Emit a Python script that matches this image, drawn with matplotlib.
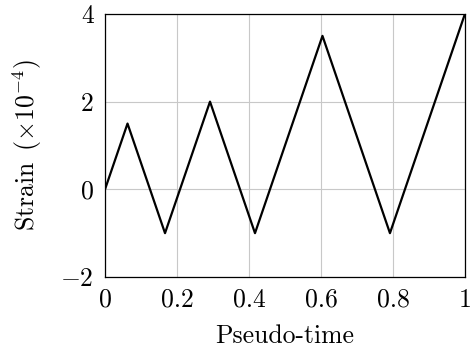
import matplotlib
matplotlib.use("Agg")
from matplotlib import pyplot as plt

# pseudo-time and strain (x 1e-4) at the turning points
pseudo_time = [0.0, 0.0625, 0.1667, 0.2917, 0.4167, 0.6042, 0.7917, 1.0]
strain = [0.0, 1.5, -1.0, 2.0, -1.0, 3.5, -1.0, 4.0]
x_ticks = [0, 0.2, 0.4, 0.6, 0.8, 1]
x_tick_labels = ["0", "0.2", "0.4", "0.6", "0.8", "1"]
y_ticks = [-2, 0, 2, 4]
y_tick_labels = ["$-2$", "0", "2", "4"]

plt.rcParams['font.family'] = 'serif'
plt.rcParams['font.serif'] = ['cmr10']
plt.rcParams['mathtext.fontset'] = 'cm'
plt.rcParams['font.size'] = 18.5

fig = plt.figure(figsize=(4.72, 3.49), dpi=100)
ax = fig.add_axes([0.2225, 0.2063, 0.7625, 0.7537])

ax.plot(pseudo_time, strain, color='black', linewidth=1.6, zorder=3)
ax.set_xlim(0, 1)
ax.set_ylim(-2, 4)
ax.set_xticks(x_ticks)
ax.set_xticklabels(x_tick_labels)
ax.set_yticks(y_ticks)
ax.set_yticklabels(y_tick_labels)
ax.grid(color='#c8c8c8', linewidth=0.8)
ax.tick_params(axis='x', length=0, pad=8)
ax.tick_params(axis='y', length=0, pad=8)
for s in ax.spines.values():
    s.set_linewidth(0.9)

ax.set_xlabel("Pseudo-time", labelpad=9)
ax.set_ylabel(r"Strain $\,(\times 10^{-4})$", labelpad=12)

fig.savefig("out.png", dpi=100)
plt.close()
